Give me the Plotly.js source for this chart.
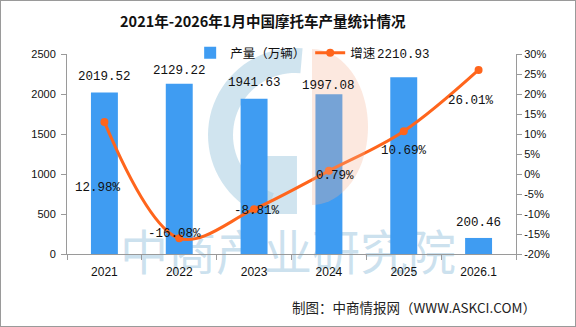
<!DOCTYPE html>
<html>
<head>
<meta charset="utf-8">
<script src="https://cdn.plot.ly/plotly-3.0.1.min.js"></script>
<style>
html,body{margin:0;padding:0;background:#fff;}
#wrap{width:576px;height:327px;box-sizing:border-box;border:1px solid #9a9a9a;overflow:hidden;}
#chart{width:574px;height:325px;}
</style>
</head>
<body>
<div id="wrap"><div id="chart"></div></div>
<script>
var categories = ["2021", "2022", "2023", "2024", "2025", "2026.1"];
var output = [2019.52, 2129.22, 1941.63, 1997.08, 2210.93, 200.46];
var growth = [12.98, -16.08, -8.81, 0.79, 10.69, 26.01];
var outputLabels = ["2019.52", "2129.22", "1941.63", "1997.08", "2210.93", "200.46"];
var growthLabels = ["12.98%", "-16.08%", "-8.81%", "0.79%", "10.69%", "26.01%"];
var leftTicks = [0, 500, 1000, 1500, 2000, 2500];
var rightTicks = [-20, -15, -10, -5, 0, 5, 10, 15, 20, 25, 30];
var rightTickText = rightTicks.map(function (v) { return v + '%'; });

// label offsets (pixels), style only
var barLabelShift = [15, 13, 16, 8, 22, 15];
var growthShiftX = [-6, -5, 3, 6, 0, -8];
var growthShiftY = [-66, 4, -2, -5, -20, -31];

var monoFont = "Liberation Mono, DejaVu Sans Mono, monospace";
var cjk = "Noto Sans CJK SC, sans-serif";

// plot-area geometry (page pixels) for decorative watermark only
var PL = 67, PW = 449, PB = 254, PH = 200;
function px(x) { return ((x - PL) / PW).toFixed(4); }
function py(y) { return ((PB - y) / PH).toFixed(4); }
function ringPath(cx, cy, R, r, a0, a1) {
  var pts = [], n = 40, k, a;
  for (k = 0; k <= n; k++) { a = (a0 + (a1 - a0) * k / n) * Math.PI / 180; pts.push([cx + R * Math.cos(a), cy - R * Math.sin(a)]); }
  for (k = n; k >= 0; k--) { a = (a0 + (a1 - a0) * k / n) * Math.PI / 180; pts.push([cx + r * Math.cos(a), cy - r * Math.sin(a)]); }
  return 'M' + pts.map(function (p) { return px(p[0]) + ',' + py(p[1]); }).join('L') + 'Z';
}
function halfDisc(cx, cy, rx, ry) {
  var pts = [], n = 40, k, a;
  for (k = 0; k <= n; k++) { a = (-90 + 180 * k / n) * Math.PI / 180; pts.push([cx + rx * Math.cos(a), cy - ry * Math.sin(a)]); }
  return 'M' + pts.map(function (p) { return px(p[0]) + ',' + py(p[1]); }).join('L') + 'Z';
}
var wmBlue = 'rgba(170,205,226,0.55)';
var shapes = [
  {type: 'path', xref: 'paper', yref: 'paper', layer: 'below', path: ringPath(295, 135, 87, 62, 85, 250),
   fillcolor: wmBlue, line: {width: 0}},
  {type: 'rect', xref: 'paper', yref: 'paper', layer: 'below', x0: px(258), x1: px(297), y0: py(214), y1: py(156),
   fillcolor: wmBlue, line: {width: 0}},
  {type: 'path', xref: 'paper', yref: 'paper', layer: 'above', path: halfDisc(312, 127, 56, 78),
   fillcolor: 'rgba(246,180,150,0.3)', line: {width: 0}},
  {type: 'rect', xref: 'paper', yref: 'paper', layer: 'below', x0: px(110), x1: px(466), y0: py(282), y1: py(232),
   fillcolor: 'rgba(0,0,0,0)', line: {width: 0},
   label: {text: '中商产业研究院', textposition: 'middle center', font: {family: cjk, size: 48, color: 'rgba(170,205,228,0.6)'}}}
];

var annotations = [];
for (var i = 0; i < categories.length; i++) {
  annotations.push({x: i, y: output[i], xref: 'x', yref: 'y', text: outputLabels[i],
    showarrow: false, yshift: barLabelShift[i], font: {family: monoFont, size: 12.5, color: '#111'}});
  annotations.push({x: i, y: growth[i], xref: 'x', yref: 'y2', text: growthLabels[i],
    showarrow: false, xshift: growthShiftX[i], yshift: growthShiftY[i], font: {family: monoFont, size: 12.5, color: '#111'}});
}
annotations.push({xref: 'paper', yref: 'paper', x: px(538), y: py(307), xanchor: 'right', yanchor: 'middle',
  text: '制图：中商情报网（WWW.ASKCI.COM）', showarrow: false, font: {family: cjk, size: 13.5, color: '#222'}});

var traces = [
  {type: 'bar', name: '产量（万辆）', x: categories, y: output, width: 0.36,
   marker: {color: '#3f9cf2'}, hoverinfo: 'none'},
  {type: 'scatter', mode: 'lines+markers', name: '增速', x: categories, y: growth, yaxis: 'y2',
   line: {color: '#ff651c', width: 3, shape: 'spline', smoothing: 1},
   marker: {color: '#ff651c', size: 8}, hoverinfo: 'none'}
];

var axisCol = '#9a9a9a';
var tickFont = {family: 'Liberation Sans, Arial, sans-serif', size: 11, color: '#111'};
var layout = {
  width: 574, height: 325,
  margin: {l: 66, r: 59, t: 53, b: 72},
  paper_bgcolor: '#fff', plot_bgcolor: 'rgba(0,0,0,0)',
  title: {text: '<b>2021年-2026年1月中国摩托车产量统计情况</b>', x: 0.456, xanchor: 'center', y: 0.935, yanchor: 'middle',
    font: {family: cjk, size: 14.5, color: '#111'}},
  showlegend: true,
  legend: {orientation: 'h', x: 0.487, xanchor: 'center', y: 1.005, yanchor: 'middle', itemwidth: 30,
    font: {family: cjk, size: 12.5, color: '#111'}, bgcolor: 'rgba(0,0,0,0)'},
  xaxis: {type: 'category', categoryarray: categories, range: [-0.5, 5.5], autorange: false,
    showline: true, linecolor: axisCol, linewidth: 1, ticks: 'outside', tickson: 'boundaries',
    ticklen: 5, tickcolor: axisCol, showgrid: false, zeroline: false, tickangle: 0, ticklabelstandoff: 7,
    tickfont: {family: 'Liberation Sans, Arial, sans-serif', size: 12, color: '#111'}},
  yaxis: {range: [0, 2500], autorange: false, tickvals: leftTicks, showline: true, linecolor: axisCol, ticks: 'outside', ticklen: 5,
    tickcolor: axisCol, showgrid: false, zeroline: false, ticklabelstandoff: 3, tickfont: tickFont},
  yaxis2: {range: [-20, 30], autorange: false, tickvals: rightTicks, ticktext: rightTickText, overlaying: 'y', side: 'right',
    showline: true, linecolor: axisCol, ticks: 'outside', ticklen: 5, tickcolor: axisCol,
    showgrid: false, zeroline: false, tickfont: tickFont},
  shapes: shapes,
  annotations: annotations
};
Plotly.newPlot('chart', traces, layout, {staticPlot: true, displayModeBar: false});
</script>
</body>
</html>
